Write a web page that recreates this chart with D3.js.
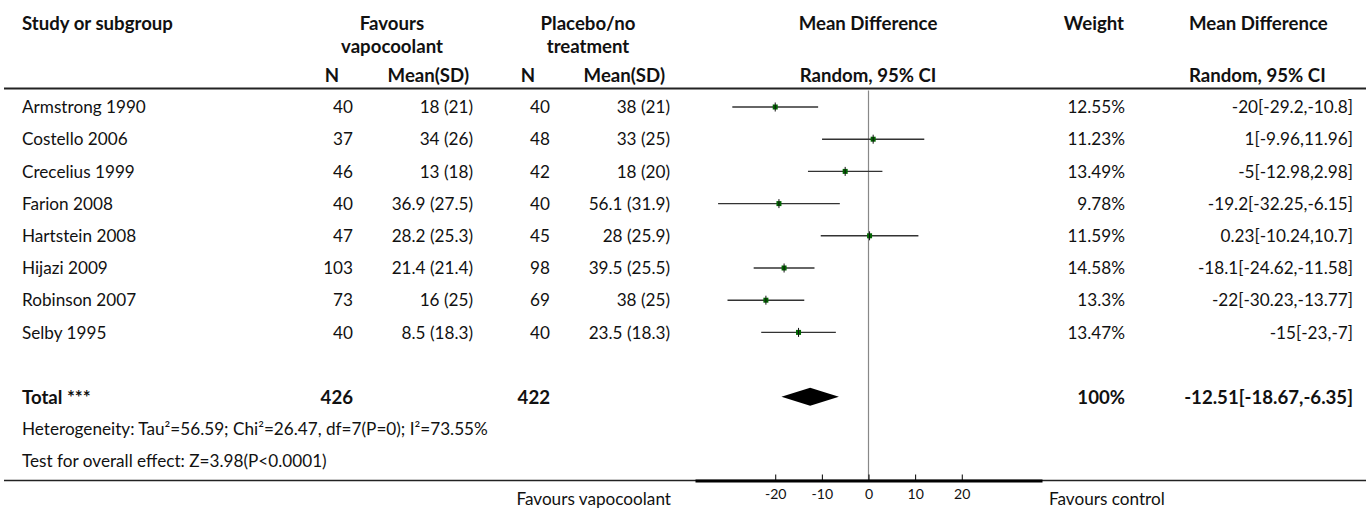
<!DOCTYPE html>
<html>
<head>
<meta charset="utf-8">
<script src="https://cdn.jsdelivr.net/npm/d3@7"></script>
<style>
  html, body { margin: 0; padding: 0; background: #fff; }
  svg { display: block; font-family: Lato, "Noto Sans", sans-serif; }
</style>
</head>
<body>
<svg id="chart" width="1370" height="509"></svg>
<script>
// ---------------- data ----------------
const studies = ["Armstrong 1990", "Costello 2006", "Crecelius 1999", "Farion 2008",
                 "Hartstein 2008", "Hijazi 2009", "Robinson 2007", "Selby 1995"];
const n1    = [40, 37, 46, 40, 47, 103, 73, 40];
const mean1 = [18, 34, 13, 36.9, 28.2, 21.4, 16, 8.5];
const sd1   = [21, 26, 18, 27.5, 25.3, 21.4, 25, 18.3];
const n2    = [40, 48, 42, 40, 45, 98, 69, 40];
const mean2 = [38, 33, 18, 56.1, 28, 39.5, 38, 23.5];
const sd2   = [21, 25, 20, 31.9, 25.9, 25.5, 25, 18.3];
const md    = [-20, 1, -5, -19.2, 0.23, -18.1, -22, -15];
const ciLo  = [-29.2, -9.96, -12.98, -32.25, -10.24, -24.62, -30.23, -23];
const ciHi  = [-10.8, 11.96, 2.98, -6.15, 10.7, -11.58, -13.77, -7];
const weight = [12.55, 11.23, 13.49, 9.78, 11.59, 14.58, 13.3, 13.47];
const totalN1 = 426, totalN2 = 422;
const totalMd = -12.51, totalLo = -18.67, totalHi = -6.35, totalWeight = 100;
const heterogeneity = "Heterogeneity: Tau²=56.59; Chi²=26.47, df=7(P=0); I²=73.55%";
const overallTest = "Test for overall effect: Z=3.98(P<0.0001)";
const ticks = [-20, -10, 0, 10, 20];
const leftLabel = "Favours vapocoolant", rightLabel = "Favours control";

// ---------------- layout ----------------
const svg = d3.select("#chart");
const ink = "#111";

// fit font sizes to the reference's text widths
function measure(s, bold) {
  const p = svg.append("text").attr("font-size", 16).attr("font-weight", bold ? 700 : 400).text(s);
  const w = p.node().getComputedTextLength();
  p.remove();
  return w;
}
const fs = 16 * 466 / measure(heterogeneity, false);
const fsB = 16 * 151 / measure("Study or subgroup", true);

const x = d3.scaleLinear().domain([-37.2, 37.2]).range([695, 1042]);
const row = d3.scaleLinear().domain([0, 11]).range([107, 461.2]);
const yHeadLine = 88.5, yAxis = 480.5;

function txt(xp, yp, s, anchor, bold, size) {
  return svg.append("text")
    .attr("x", xp).attr("y", yp)
    .attr("dy", "0.36em")
    .attr("text-anchor", anchor || "start")
    .attr("font-size", size || (bold ? fsB : fs))
    .attr("font-weight", bold ? 700 : 400)
    .attr("fill", ink)
    .text(s);
}

// header
txt(22, 23, "Study or subgroup", "start", true);
txt(392, 23, "Favours", "middle", true);
txt(392, 46, "vapocoolant", "middle", true);
txt(588, 23, "Placebo/no", "middle", true);
txt(588, 46, "treatment", "middle", true);
txt(868, 23, "Mean Difference", "middle", true);
txt(1124, 23, "Weight", "end", true);
txt(1189, 23, "Mean Difference", "start", true);
txt(332, 75, "N", "middle", true);
txt(469, 75, "Mean(SD)", "end", true);
txt(528, 75, "N", "middle", true);
txt(665, 75, "Mean(SD)", "end", true);
txt(868, 75, "Random, 95% CI", "middle", true);
txt(1189, 75, "Random, 95% CI", "start", true);

svg.append("line").attr("x1", 4).attr("x2", 1366)
  .attr("y1", yHeadLine).attr("y2", yHeadLine)
  .attr("stroke", "#222").attr("stroke-width", 1.8);

// zero line
svg.append("line").attr("x1", x(0)).attr("x2", x(0))
  .attr("y1", yHeadLine + 2).attr("y2", yAxis)
  .attr("stroke", "#888").attr("stroke-width", 1.2);

// study rows
studies.forEach((s, i) => {
  const yy = row(i);
  txt(22, yy, s, "start", false);
  txt(353, yy, n1[i], "end", false);
  txt(473, yy, `${mean1[i]} (${sd1[i]})`, "end", false);
  txt(550, yy, n2[i], "end", false);
  txt(670, yy, `${mean2[i]} (${sd2[i]})`, "end", false);
  txt(1125, yy, `${weight[i]}%`, "end", false);
  txt(1353, yy, `${md[i]}[${ciLo[i]},${ciHi[i]}]`, "end", false);
});

const g = svg.append("g");
g.selectAll("line.ci").data(studies).join("line").attr("class", "ci")
  .attr("x1", (d, i) => x(ciLo[i])).attr("x2", (d, i) => x(ciHi[i]))
  .attr("y1", (d, i) => row(i)).attr("y2", (d, i) => row(i))
  .attr("stroke", "#333").attr("stroke-width", 1.4);
const sq = 5;
g.selectAll("rect.pt").data(studies).join("rect").attr("class", "pt")
  .attr("x", (d, i) => x(md[i]) - sq / 2).attr("y", (d, i) => row(i) - sq / 2)
  .attr("width", sq).attr("height", sq)
  .attr("fill", "#006600");
g.selectAll("line.tk").data(studies).join("line").attr("class", "tk")
  .attr("x1", (d, i) => x(md[i])).attr("x2", (d, i) => x(md[i]))
  .attr("y1", (d, i) => row(i) - 4.5).attr("y2", (d, i) => row(i) + 4.5)
  .attr("stroke", "#111").attr("stroke-width", 1);

// total
const yT = row(9);
txt(22, yT, "Total ***", "start", true);
txt(353, yT, totalN1, "end", true);
txt(550, yT, totalN2, "end", true);
txt(1125, yT, `${totalWeight}%`, "end", true);
txt(1353, yT, `${totalMd}[${totalLo},${totalHi}]`, "end", true);
const dh = 9;
svg.append("path")
  .attr("d", `M${x(totalLo)},${yT} L${x(totalMd)},${yT - dh} L${x(totalHi)},${yT} L${x(totalMd)},${yT + dh} Z`)
  .attr("fill", "#000");

txt(22, row(10), heterogeneity, "start", false);
txt(22, row(11), overallTest, "start", false);

// bottom rule + axis
svg.append("line").attr("x1", 4).attr("x2", 1366)
  .attr("y1", yAxis).attr("y2", yAxis)
  .attr("stroke", "#222").attr("stroke-width", 1.6);

const axis = d3.axisBottom(x).tickValues(ticks).tickFormat(d => String(d))
  .tickSizeInner(-6).tickSizeOuter(0).tickPadding(9);
const ag = svg.append("g").attr("transform", `translate(0,${yAxis})`).call(axis);
ag.select(".domain").attr("stroke", "#000").attr("stroke-width", 2.8);
ag.selectAll(".tick line").attr("stroke", "#000").attr("stroke-width", 1);
ag.selectAll(".tick text").attr("font-family", "Lato, 'Noto Sans', sans-serif")
  .attr("font-size", fs * 0.82).attr("fill", ink);

txt(671, 499, leftLabel, "end", false);
txt(1049, 499, rightLabel, "start", false);
</script>
</body>
</html>
